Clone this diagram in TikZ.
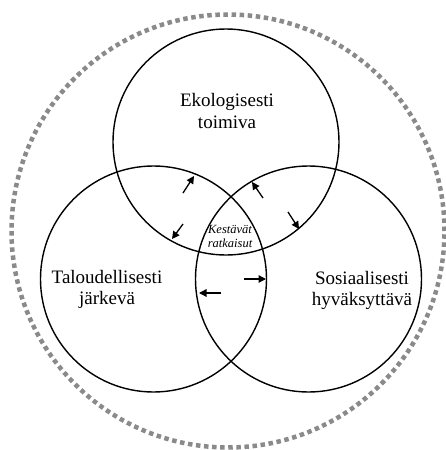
\documentclass[tikz,border=0pt]{standalone}
\usepackage{fontspec}
\setmainfont{Liberation Serif}
\usetikzlibrary{arrows.meta}
\definecolor{dotgray}{RGB}{138,138,138}
\begin{document}
\begin{tikzpicture}[x=1pt,y=-1pt,
  ring/.style={draw=black,line width=1.4pt},
  outerring/.style={draw=dotgray,line width=4.5pt,dash pattern=on 4.5pt off 3.6pt},
  lbl/.style={font=\fontsize{19}{22}\selectfont,inner sep=0pt,anchor=base},
  core/.style={font=\fontsize{12.5}{14}\selectfont\itshape,inner sep=0pt,anchor=base},
  flow/.style={line width=1.3pt,-{Triangle[length=7.5pt,width=7.5pt]}}]
\useasboundingbox (0,0) rectangle (446,450);

% surrounding dotted boundary
\draw[outerring] (228,231) circle[radius=216.5pt];

% the three overlapping domains
\draw[ring] (226,142) circle[radius=113pt];
\draw[ring] (153.5,279) circle[radius=113pt];
\draw[ring] (308.5,279) circle[radius=113pt];

% domain labels
\node[lbl] (eko1) at (227,106) {Ekologisesti};
\node[lbl] (eko2) at (227,128) {toimiva};
\node[lbl] (tal1) at (107,283) {Taloudellisesti};
\node[lbl] (tal2) at (107,304) {järkevä};
\node[lbl] (sos1) at (362,284) {Sosiaalisesti};
\node[lbl] (sos2) at (362,305) {hyväksyttävä};

% common core
\node[core] (kes1) at (230,233) {Kestävät};
\node[core] (kes2) at (230,247) {ratkaisut};

% interaction arrows between domains
\coordinate (a1s) at (183,193);
\coordinate (a1e) at (194,176);
\coordinate (a2s) at (183,224);
\coordinate (a2e) at (172,239);
\coordinate (a3s) at (263,198);
\coordinate (a3e) at (252,182);
\coordinate (a4s) at (288,212);
\coordinate (a4e) at (299,229);
\coordinate (a5s) at (244,279);
\coordinate (a5e) at (266,279);
\coordinate (a6s) at (221,293);
\coordinate (a6e) at (199,293);
\draw[flow] (a1s) -- (a1e);
\draw[flow] (a2s) -- (a2e);
\draw[flow] (a3s) -- (a3e);
\draw[flow] (a4s) -- (a4e);
\draw[flow] (a5s) -- (a5e);
\draw[flow] (a6s) -- (a6e);
\end{tikzpicture}
\end{document}
